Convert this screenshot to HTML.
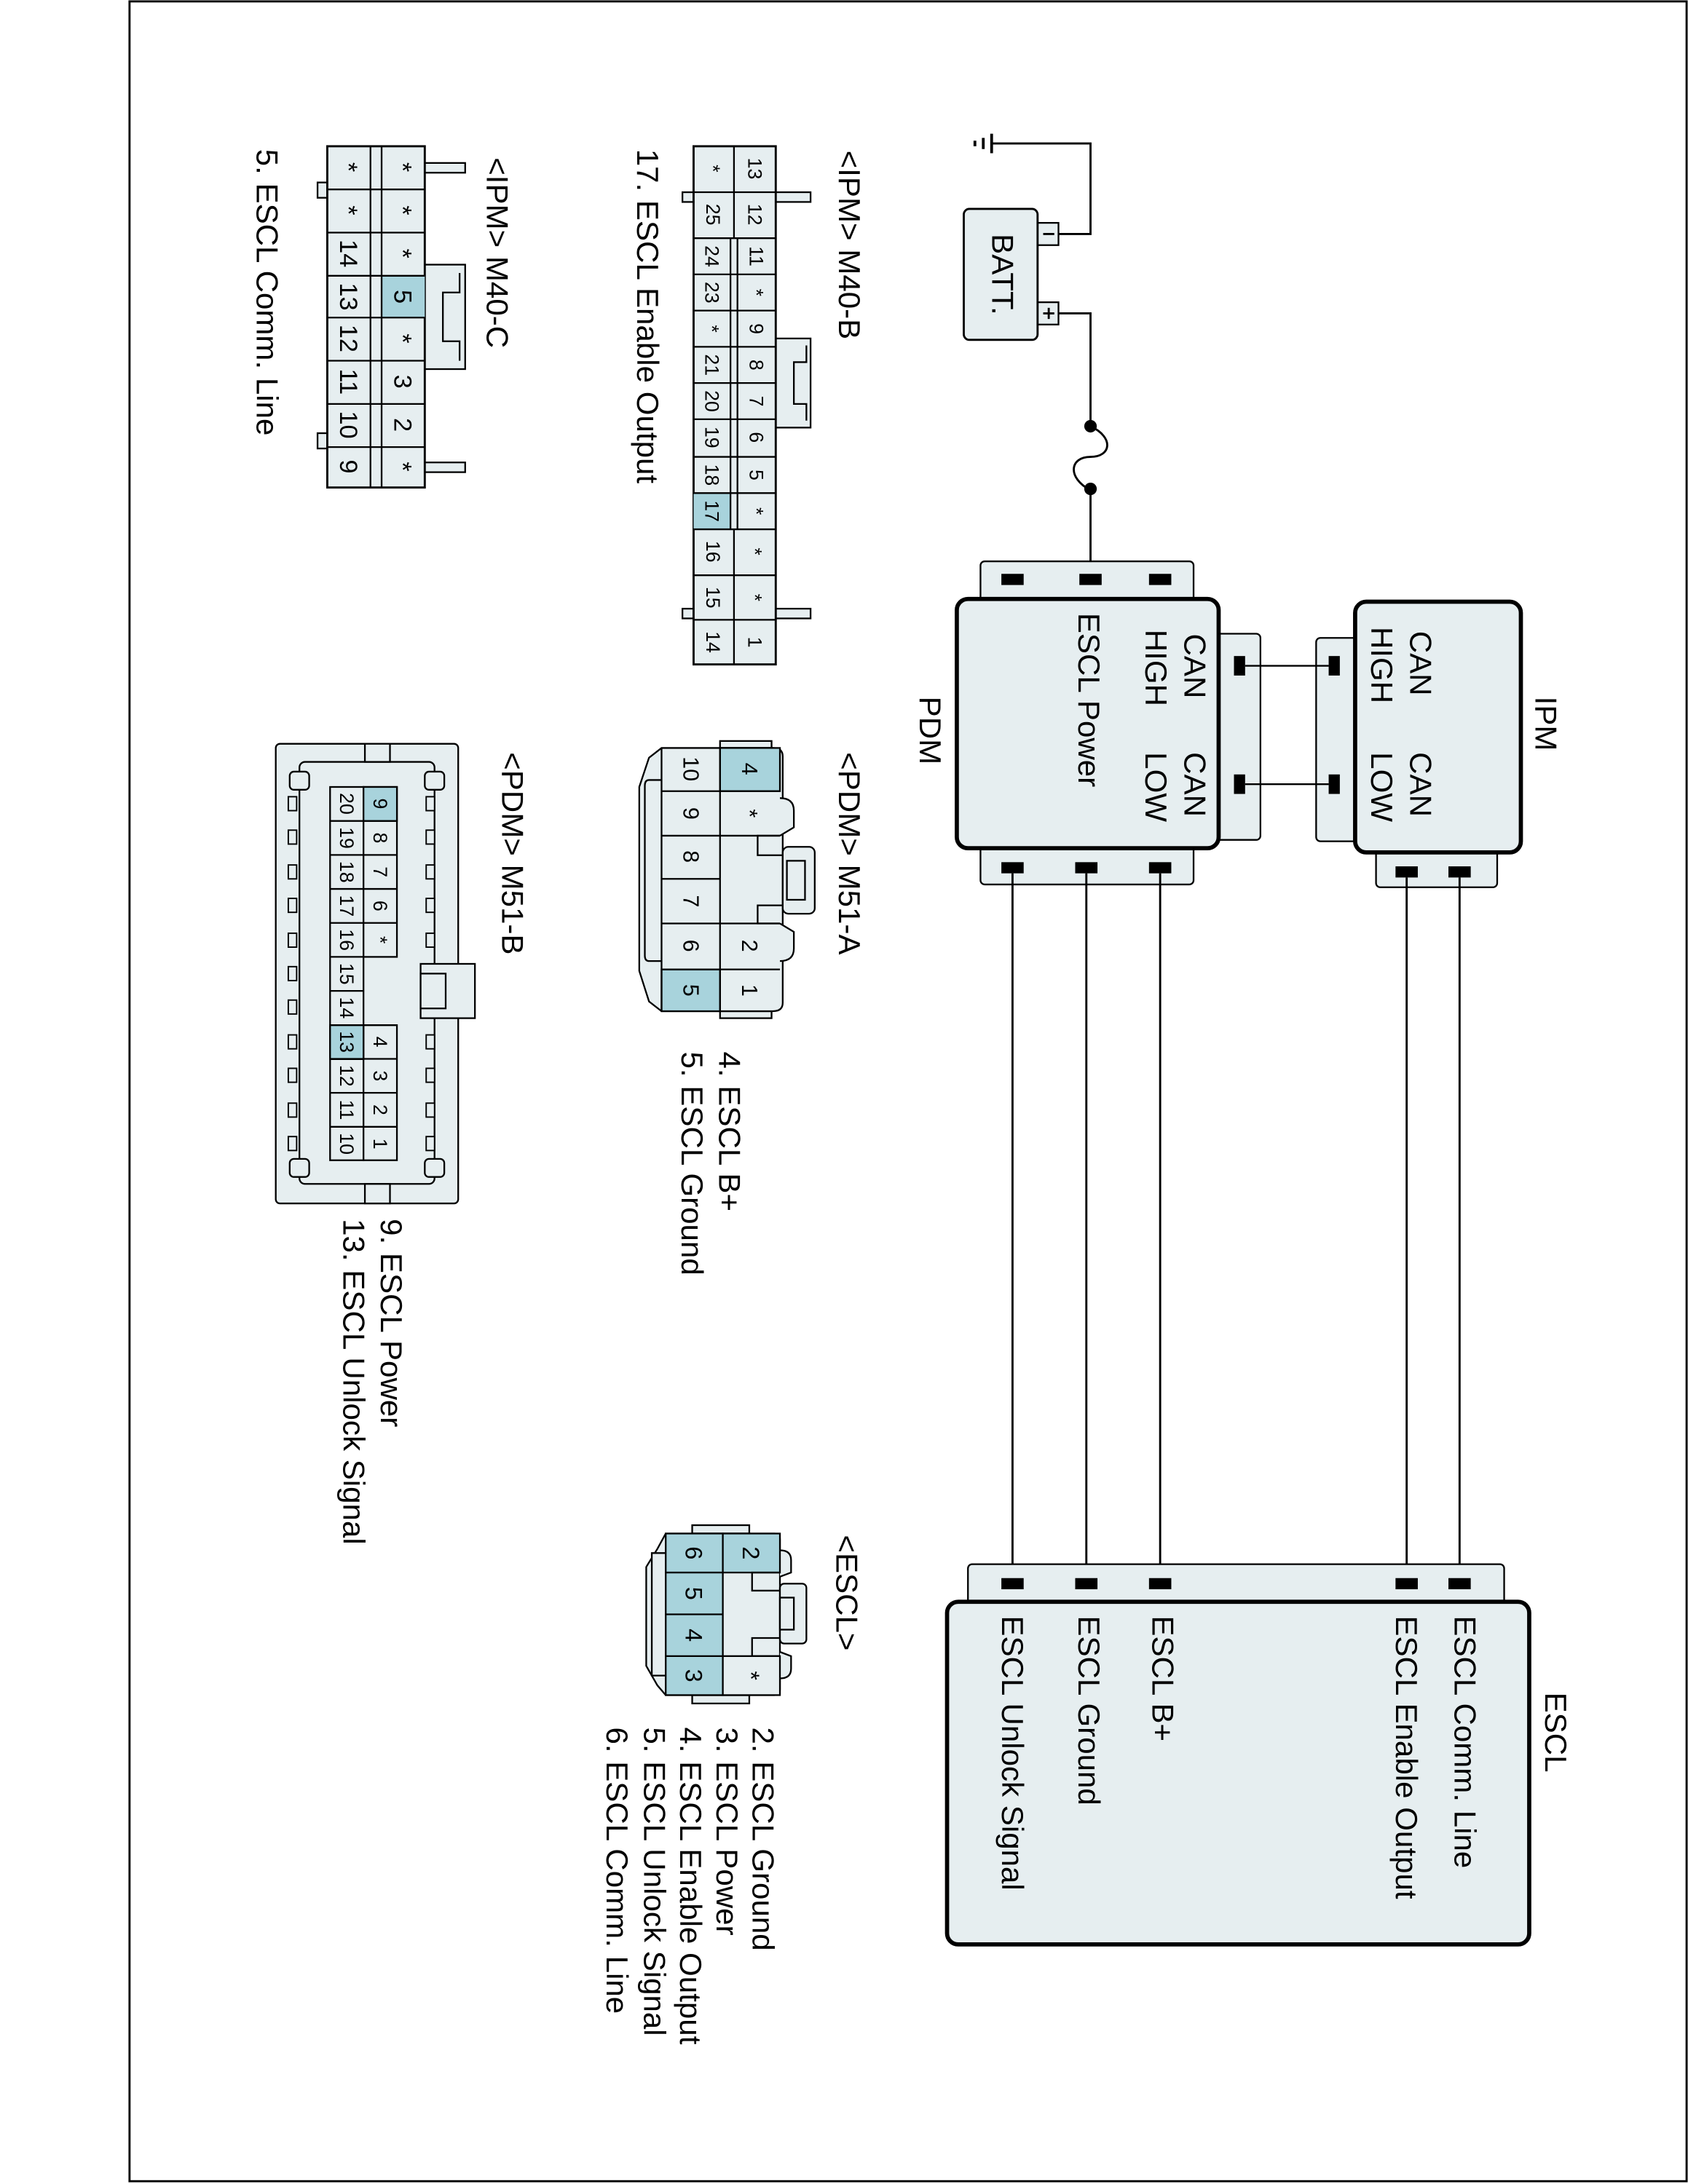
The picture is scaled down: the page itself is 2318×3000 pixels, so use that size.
<!DOCTYPE html>
<html><head><meta charset="utf-8"><style>
html,body{margin:0;padding:0;background:#fff}
svg{display:block}
text{font-family:"Liberation Sans",sans-serif;fill:#000}
.c{text-anchor:middle;dominant-baseline:central}
.s{dominant-baseline:central}
</style></head><body>
<svg width="2318" height="3000" viewBox="0 0 1212 1568" preserveAspectRatio="none" xmlns="http://www.w3.org/2000/svg">
<rect x="0" y="0" width="1212" height="1568" fill="#fff"/>
<rect x="93" y="1" width="1118" height="1565" fill="none" stroke="#000" stroke-width="1.5"/>

<g stroke="#000" fill="none" stroke-width="1.5">
<line x1="712" y1="96" x2="712" y2="110" stroke-width="2"/>
<line x1="706" y1="99" x2="706" y2="107" stroke-width="2"/>
<line x1="700" y1="101" x2="700" y2="105" stroke-width="2"/>
<polyline points="712,103 783,103 783,168 760,168"/>
<polyline points="760,225 783,225 783,306"/>
<path d="M783,306 C800,314 798,328 783,328 C768,328 766,343 783,352" stroke-width="1.5"/>
<line x1="783" y1="352" x2="783" y2="412"/>
</g>
<circle cx="783" cy="306" r="4.5"/><circle cx="783" cy="351" r="4.5"/>
<rect x="745" y="160" width="15" height="16" fill="#e6eef0" stroke="#000" stroke-width="1.2"/>
<rect x="745" y="217" width="15" height="16" fill="#e6eef0" stroke="#000" stroke-width="1.2"/>
<line x1="749" y1="168" x2="757" y2="168" stroke="#000" stroke-width="1.5"/>
<line x1="749" y1="225" x2="757" y2="225" stroke="#000" stroke-width="1.5"/>
<line x1="753" y1="221" x2="753" y2="229" stroke="#000" stroke-width="1.5"/>
<rect x="692" y="150" width="53" height="94" rx="4" fill="#e6eef0" stroke="#000" stroke-width="1.5"/>
<text class="c" x="720" y="197" font-size="22" transform="rotate(90 720 197)">BATT.</text>

<!-- PDM -->
<rect x="704" y="403" width="153" height="30" rx="3" fill="#e6eef0" stroke="#000" stroke-width="1.2"/>
<rect x="704" y="606" width="153" height="29" rx="3" fill="#e6eef0" stroke="#000" stroke-width="1.2"/>
<rect x="872" y="455" width="33" height="148" rx="3" fill="#e6eef0" stroke="#000" stroke-width="1.2"/>
<rect x="687" y="430" width="188" height="179" rx="8" fill="#e6eef0" stroke="#000" stroke-width="3"/>
<g fill="#000">
<rect x="719" y="412" width="16" height="8"/><rect x="775" y="412" width="16" height="8"/><rect x="825" y="412" width="16" height="8"/>
<rect x="719" y="619" width="16" height="8"/><rect x="772" y="619" width="16" height="8"/><rect x="825" y="619" width="16" height="8"/>
<rect x="886" y="471" width="8" height="14"/><rect x="886" y="556" width="8" height="14"/>
</g>
<text class="s" x="858" y="455" font-size="22" transform="rotate(90 858 455)">CAN</text>
<text class="s" x="830" y="452" font-size="22" transform="rotate(90 830 452)">HIGH</text>
<text class="s" x="858" y="540" font-size="22" transform="rotate(90 858 540)">CAN</text>
<text class="s" x="830" y="540" font-size="22" transform="rotate(90 830 540)">LOW</text>
<text class="s" x="782" y="440" font-size="22" transform="rotate(90 782 440)">ESCL Power</text>
<text class="s" x="668" y="500" font-size="22" transform="rotate(90 668 500)">PDM</text>

<!-- IPM -->
<rect x="945" y="458" width="31" height="146" rx="3" fill="#e6eef0" stroke="#000" stroke-width="1.2"/>
<rect x="988" y="609" width="87" height="28" rx="3" fill="#e6eef0" stroke="#000" stroke-width="1.2"/>
<rect x="973" y="432" width="119" height="180" rx="8" fill="#e6eef0" stroke="#000" stroke-width="3"/>
<g fill="#000">
<rect x="954" y="471" width="8" height="14"/><rect x="954" y="556" width="8" height="14"/>
<rect x="1002" y="622" width="16" height="8"/><rect x="1040" y="622" width="16" height="8"/>
</g>
<g stroke="#000" stroke-width="1.2"><line x1="894" y1="478" x2="954" y2="478"/><line x1="894" y1="563" x2="954" y2="563"/></g>
<text class="s" x="1020" y="453" font-size="22" transform="rotate(90 1020 453)">CAN</text>
<text class="s" x="992" y="450" font-size="22" transform="rotate(90 992 450)">HIGH</text>
<text class="s" x="1020" y="540" font-size="22" transform="rotate(90 1020 540)">CAN</text>
<text class="s" x="992" y="540" font-size="22" transform="rotate(90 992 540)">LOW</text>
<text class="s" x="1110" y="500" font-size="22" transform="rotate(90 1110 500)">IPM</text>

<g stroke="#000" stroke-width="1.5">
<line x1="727" y1="627" x2="727" y2="1137"/><line x1="780" y1="627" x2="780" y2="1137"/><line x1="833" y1="627" x2="833" y2="1137"/>
<line x1="1010" y1="630" x2="1010" y2="1137"/><line x1="1048" y1="630" x2="1048" y2="1137"/>
</g>

<!-- ESCL -->
<rect x="695" y="1123" width="385" height="30" rx="3" fill="#e6eef0" stroke="#000" stroke-width="1.2"/>
<rect x="680" y="1150" width="418" height="246" rx="8" fill="#e6eef0" stroke="#000" stroke-width="3"/>
<g fill="#000">
<rect x="719" y="1133" width="16" height="8"/><rect x="772" y="1133" width="16" height="8"/><rect x="825" y="1133" width="16" height="8"/>
<rect x="1002" y="1133" width="16" height="8"/><rect x="1040" y="1133" width="16" height="8"/>
</g>
<text class="s" x="1117" y="1215" font-size="22" transform="rotate(90 1117 1215)">ESCL</text>
<text class="s" x="1052" y="1160" font-size="22" transform="rotate(90 1052 1160)">ESCL Comm. Line</text>
<text class="s" x="1010" y="1160" font-size="22" transform="rotate(90 1010 1160)">ESCL Enable Output</text>
<text class="s" x="835" y="1160" font-size="22" transform="rotate(90 835 1160)">ESCL B+</text>
<text class="s" x="782" y="1160" font-size="22" transform="rotate(90 782 1160)">ESCL Ground</text>
<text class="s" x="727" y="1160" font-size="22" transform="rotate(90 727 1160)">ESCL Unlock Signal</text>

<!-- M40-B -->
<text class="s" x="610" y="108" font-size="22" transform="rotate(90 610 108)">&lt;IPM&gt; M40-B</text>
<text class="s" x="465" y="107" font-size="22" transform="rotate(90 465 107)">17. ESCL Enable Output</text>
<g fill="#e6eef0" stroke="#000" stroke-width="1.2">
<rect x="557" y="138" width="25" height="7"/><rect x="557" y="437" width="25" height="7"/>
<rect x="490" y="138" width="8" height="7"/><rect x="490" y="437" width="8" height="7"/>
<rect x="557" y="243" width="25" height="64"/>
</g>
<polyline points="579,248 579,260 570,260 570,290 579,290 579,302" fill="none" stroke="#000" stroke-width="1.2"/>
<rect x="498" y="105" width="59" height="372" fill="#e6eef0" stroke="#000" stroke-width="1.5"/>
<rect x="498" y="354" width="26" height="26" fill="#a8d3dc"/>
<g stroke="#000" stroke-width="1.2" fill="none">
<line x1="527" y1="105" x2="527" y2="171"/><line x1="527" y1="380" x2="527" y2="477"/>
<line x1="524.5" y1="171" x2="524.5" y2="380"/><line x1="529.5" y1="171" x2="529.5" y2="380"/>
<line x1="498" y1="138" x2="557" y2="138"/><line x1="498" y1="171" x2="557" y2="171"/>
<line x1="498" y1="197" x2="557" y2="197"/><line x1="498" y1="223" x2="557" y2="223"/>
<line x1="498" y1="249" x2="557" y2="249"/><line x1="498" y1="275" x2="557" y2="275"/>
<line x1="498" y1="301" x2="557" y2="301"/><line x1="498" y1="328" x2="557" y2="328"/>
<line x1="498" y1="354" x2="557" y2="354"/><line x1="498" y1="380" x2="557" y2="380"/>
<line x1="498" y1="413" x2="557" y2="413"/><line x1="498" y1="445" x2="557" y2="445"/>
</g>
<g font-size="14">
<text class="c" x="542" y="121" transform="rotate(90 542 121)">13</text>
<text class="c" x="542" y="154" transform="rotate(90 542 154)">12</text>
<text class="c" x="543" y="184" transform="rotate(90 543 184)">11</text>
<text class="c" x="543" y="210" transform="rotate(90 543 210)">*</text>
<text class="c" x="543" y="236" transform="rotate(90 543 236)">9</text>
<text class="c" x="543" y="262" transform="rotate(90 543 262)">8</text>
<text class="c" x="543" y="288" transform="rotate(90 543 288)">7</text>
<text class="c" x="543" y="314" transform="rotate(90 543 314)">6</text>
<text class="c" x="543" y="341" transform="rotate(90 543 341)">5</text>
<text class="c" x="543" y="367" transform="rotate(90 543 367)">*</text>
<text class="c" x="542" y="396" transform="rotate(90 542 396)">*</text>
<text class="c" x="542" y="429" transform="rotate(90 542 429)">*</text>
<text class="c" x="542" y="461" transform="rotate(90 542 461)">1</text>
<text class="c" x="512" y="121" transform="rotate(90 512 121)">*</text>
<text class="c" x="512" y="154" transform="rotate(90 512 154)">25</text>
<text class="c" x="511" y="184" transform="rotate(90 511 184)">24</text>
<text class="c" x="511" y="210" transform="rotate(90 511 210)">23</text>
<text class="c" x="511" y="236" transform="rotate(90 511 236)">*</text>
<text class="c" x="511" y="262" transform="rotate(90 511 262)">21</text>
<text class="c" x="511" y="288" transform="rotate(90 511 288)">20</text>
<text class="c" x="511" y="314" transform="rotate(90 511 314)">19</text>
<text class="c" x="511" y="341" transform="rotate(90 511 341)">18</text>
<text class="c" x="511" y="367" transform="rotate(90 511 367)">17</text>
<text class="c" x="512" y="396" transform="rotate(90 512 396)">16</text>
<text class="c" x="512" y="429" transform="rotate(90 512 429)">15</text>
<text class="c" x="512" y="461" transform="rotate(90 512 461)">14</text>
</g>

<!-- M40-C -->
<text class="s" x="357" y="113" font-size="22" transform="rotate(90 357 113)">&lt;IPM&gt; M40-C</text>
<text class="s" x="192" y="107" font-size="22" transform="rotate(90 192 107)">5. ESCL Comm. Line</text>
<g fill="#e6eef0" stroke="#000" stroke-width="1.2">
<rect x="305" y="117" width="29" height="7"/><rect x="305" y="332" width="29" height="7"/>
<rect x="228" y="131" width="7" height="11"/><rect x="228" y="311" width="7" height="11"/>
<rect x="305" y="190" width="29" height="75"/>
</g>
<polyline points="330,196 330,210 318,210 318,245 330,245 330,259" fill="none" stroke="#000" stroke-width="1.2"/>
<rect x="235" y="105" width="70" height="245" fill="#e6eef0" stroke="#000" stroke-width="1.5"/>
<rect x="274" y="198" width="31" height="30" fill="#a8d3dc"/>
<g stroke="#000" stroke-width="1.2">
<line x1="266" y1="105" x2="266" y2="350"/><line x1="274" y1="105" x2="274" y2="350"/>
<line x1="235" y1="136" x2="305" y2="136"/><line x1="235" y1="167" x2="305" y2="167"/>
<line x1="235" y1="198" x2="305" y2="198"/><line x1="235" y1="228" x2="305" y2="228"/>
<line x1="235" y1="259" x2="305" y2="259"/><line x1="235" y1="290" x2="305" y2="290"/>
<line x1="235" y1="321" x2="305" y2="321"/>
</g>
<g font-size="18">
<text class="c" x="289" y="120" transform="rotate(90 289 120)">*</text>
<text class="c" x="289" y="151" transform="rotate(90 289 151)">*</text>
<text class="c" x="289" y="182" transform="rotate(90 289 182)">*</text>
<text class="c" x="289" y="213" transform="rotate(90 289 213)">5</text>
<text class="c" x="289" y="243" transform="rotate(90 289 243)">*</text>
<text class="c" x="289" y="274" transform="rotate(90 289 274)">3</text>
<text class="c" x="289" y="305" transform="rotate(90 289 305)">2</text>
<text class="c" x="289" y="335" transform="rotate(90 289 335)">*</text>
<text class="c" x="250" y="120" transform="rotate(90 250 120)">*</text>
<text class="c" x="250" y="151" transform="rotate(90 250 151)">*</text>
<text class="c" x="250" y="182" transform="rotate(90 250 182)">14</text>
<text class="c" x="250" y="213" transform="rotate(90 250 213)">13</text>
<text class="c" x="250" y="243" transform="rotate(90 250 243)">12</text>
<text class="c" x="250" y="274" transform="rotate(90 250 274)">11</text>
<text class="c" x="250" y="305" transform="rotate(90 250 305)">10</text>
<text class="c" x="250" y="335" transform="rotate(90 250 335)">9</text>
</g>

<!-- M51-A -->
<text class="s" x="610" y="540" font-size="22" transform="rotate(90 610 540)">&lt;PDM&gt; M51-A</text>
<text class="s" x="524" y="755" font-size="22" transform="rotate(90 524 755)">4. ESCL B+</text>
<text class="s" x="497" y="755" font-size="22" transform="rotate(90 497 755)">5. ESCL Ground</text>
<g fill="#e6eef0" stroke="#000" stroke-width="1.2">
<rect x="517" y="532" width="37" height="5"/><rect x="517" y="726" width="37" height="5"/>
<path d="M475,537 L555,537 Q562,537 562,543 L562,720 Q562,726 555,726 L475,726 L466,719 L459,697 L459,565 L466,544 Z"/>
<path d="M475,560 L466,560 Q463,560 463,564 L463,686 Q463,690 466,690 L475,690"/>
<path d="M560,573 Q570,573 570,582 L570,594 L560,600"/>
<path d="M560,690 Q570,690 570,681 L570,669 L560,663"/>
<rect x="562" y="608" width="23" height="48" rx="4"/>
<rect x="565" y="618" width="13" height="28"/>
</g>
<rect x="517" y="537" width="43" height="31" fill="#a8d3dc" stroke="#000" stroke-width="1.2"/>
<rect x="475" y="696" width="42" height="30" fill="#a8d3dc" stroke="#000" stroke-width="1.2"/>
<g stroke="#000" stroke-width="1.2" fill="none">
<line x1="475" y1="537" x2="475" y2="726"/><line x1="517" y1="537" x2="517" y2="726"/>
<line x1="475" y1="568" x2="560" y2="568"/><line x1="475" y1="600" x2="560" y2="600"/>
<line x1="475" y1="631" x2="517" y2="631"/><line x1="475" y1="663" x2="560" y2="663"/>
<line x1="475" y1="696" x2="560" y2="696"/>
<polyline points="560,600 544,600 544,614 562,614"/><polyline points="562,650 544,650 544,663 560,663"/>
</g>
<g font-size="16">
<text class="c" x="538" y="552" transform="rotate(90 538 552)">4</text>
<text class="c" x="538" y="584" transform="rotate(90 538 584)">*</text>
<text class="c" x="538" y="679" transform="rotate(90 538 679)">2</text>
<text class="c" x="538" y="711" transform="rotate(90 538 711)">1</text>
<text class="c" x="496" y="552" transform="rotate(90 496 552)">10</text>
<text class="c" x="496" y="584" transform="rotate(90 496 584)">9</text>
<text class="c" x="496" y="615" transform="rotate(90 496 615)">8</text>
<text class="c" x="496" y="647" transform="rotate(90 496 647)">7</text>
<text class="c" x="496" y="679" transform="rotate(90 496 679)">6</text>
<text class="c" x="496" y="711" transform="rotate(90 496 711)">5</text>
</g>

<!-- M51-B -->
<text class="s" x="368" y="540" font-size="22" transform="rotate(90 368 540)">&lt;PDM&gt; M51-B</text>
<text class="s" x="281" y="875" font-size="22" transform="rotate(90 281 875)">9. ESCL Power</text>
<text class="s" x="254" y="875" font-size="22" transform="rotate(90 254 875)">13. ESCL Unlock Signal</text>
<g fill="#e6eef0" stroke="#000" stroke-width="1.2">
<rect x="198" y="534" width="131" height="330" rx="3"/>
<rect x="215" y="547" width="97" height="303" rx="4"/>
<rect x="208" y="554" width="14" height="13" rx="3"/><rect x="305" y="554" width="14" height="13" rx="3"/>
<rect x="208" y="832" width="14" height="13" rx="3"/><rect x="305" y="832" width="14" height="13" rx="3"/>
<rect x="262" y="534" width="18" height="13"/><rect x="262" y="850" width="18" height="14"/>
<rect x="302" y="692" width="39" height="39"/>
<rect x="302" y="699" width="18" height="25"/>
</g>
<g fill="#e6eef0" stroke="#000" stroke-width="1">
<rect x="207" y="572" width="6" height="10"/><rect x="207" y="596" width="6" height="10"/><rect x="207" y="621" width="6" height="10"/>
<rect x="207" y="645" width="6" height="10"/><rect x="207" y="670" width="6" height="10"/><rect x="207" y="694" width="6" height="10"/>
<rect x="207" y="718" width="6" height="10"/><rect x="207" y="743" width="6" height="10"/><rect x="207" y="767" width="6" height="10"/>
<rect x="207" y="792" width="6" height="10"/><rect x="207" y="816" width="6" height="10"/>
<rect x="306" y="572" width="6" height="10"/><rect x="306" y="596" width="6" height="10"/><rect x="306" y="621" width="6" height="10"/>
<rect x="306" y="645" width="6" height="10"/><rect x="306" y="670" width="6" height="10"/>
<rect x="306" y="743" width="6" height="10"/><rect x="306" y="767" width="6" height="10"/><rect x="306" y="792" width="6" height="10"/><rect x="306" y="816" width="6" height="10"/>
</g>
<rect x="237" y="565" width="24" height="268" fill="#e6eef0" stroke="#000" stroke-width="1.2"/>
<rect x="261" y="565" width="24" height="122" fill="#e6eef0" stroke="#000" stroke-width="1.2"/>
<rect x="261" y="736" width="24" height="97" fill="#e6eef0" stroke="#000" stroke-width="1.2"/>
<rect x="261" y="565" width="24" height="24.4" fill="#a8d3dc" stroke="#000" stroke-width="1.2"/>
<rect x="237" y="736" width="24" height="24.4" fill="#a8d3dc" stroke="#000" stroke-width="1.2"/>
<g stroke="#000" stroke-width="1.2">
<line x1="237" y1="589.4" x2="285" y2="589.4"/><line x1="237" y1="613.8" x2="285" y2="613.8"/><line x1="237" y1="638.2" x2="285" y2="638.2"/>
<line x1="237" y1="662.6" x2="285" y2="662.6"/><line x1="237" y1="687" x2="261" y2="687"/><line x1="237" y1="711.4" x2="261" y2="711.4"/>
<line x1="237" y1="736" x2="285" y2="736"/><line x1="237" y1="760.2" x2="285" y2="760.2"/><line x1="237" y1="784.6" x2="285" y2="784.6"/>
<line x1="237" y1="809" x2="285" y2="809"/>
</g>
<g font-size="14">
<text class="c" x="273" y="577" transform="rotate(90 273 577)">9</text>
<text class="c" x="273" y="601.6" transform="rotate(90 273 601.6)">8</text>
<text class="c" x="273" y="626" transform="rotate(90 273 626)">7</text>
<text class="c" x="273" y="650.4" transform="rotate(90 273 650.4)">6</text>
<text class="c" x="273" y="674.8" transform="rotate(90 273 674.8)">*</text>
<text class="c" x="273" y="748" transform="rotate(90 273 748)">4</text>
<text class="c" x="273" y="772.4" transform="rotate(90 273 772.4)">3</text>
<text class="c" x="273" y="796.8" transform="rotate(90 273 796.8)">2</text>
<text class="c" x="273" y="821.2" transform="rotate(90 273 821.2)">1</text>
<text class="c" x="249" y="577" transform="rotate(90 249 577)">20</text>
<text class="c" x="249" y="601.6" transform="rotate(90 249 601.6)">19</text>
<text class="c" x="249" y="626" transform="rotate(90 249 626)">18</text>
<text class="c" x="249" y="650.4" transform="rotate(90 249 650.4)">17</text>
<text class="c" x="249" y="674.8" transform="rotate(90 249 674.8)">16</text>
<text class="c" x="249" y="699.2" transform="rotate(90 249 699.2)">15</text>
<text class="c" x="249" y="723.6" transform="rotate(90 249 723.6)">14</text>
<text class="c" x="249" y="748" transform="rotate(90 249 748)">13</text>
<text class="c" x="249" y="772.4" transform="rotate(90 249 772.4)">12</text>
<text class="c" x="249" y="796.8" transform="rotate(90 249 796.8)">11</text>
<text class="c" x="249" y="821.2" transform="rotate(90 249 821.2)">10</text>
</g>

<!-- ESCL connector -->
<text class="s" x="608" y="1102" font-size="22" transform="rotate(90 608 1102)">&lt;ESCL&gt;</text>
<text class="s" x="548" y="1240" font-size="22" transform="rotate(90 548 1240)">2. ESCL Ground</text>
<text class="s" x="522" y="1240" font-size="22" transform="rotate(90 522 1240)">3. ESCL Power</text>
<text class="s" x="496" y="1240" font-size="22" transform="rotate(90 496 1240)">4. ESCL Enable Output</text>
<text class="s" x="470" y="1240" font-size="22" transform="rotate(90 470 1240)">5. ESCL Unlock Signal</text>
<text class="s" x="443" y="1240" font-size="22" transform="rotate(90 443 1240)">6. ESCL Comm. Line</text>
<g fill="#e6eef0" stroke="#000" stroke-width="1.2">
<rect x="497" y="1095" width="41" height="6"/><rect x="497" y="1217" width="41" height="6"/>
<path d="M478,1101 L556,1101 Q560,1101 560,1105 L560,1213 Q560,1217 556,1217 L478,1217 L472,1210 L464,1196 L464,1125 L472,1112 Z"/>
<path d="M478,1115 L468,1115 L468,1203 L478,1203"/>
<path d="M560,1113 Q568,1113 568,1120 L568,1129 L560,1132"/>
<path d="M560,1205 Q568,1205 568,1198 L568,1189 L560,1186"/>
<rect x="560" y="1137" width="19" height="43" rx="3"/>
<rect x="560" y="1147" width="10" height="23"/>
</g>
<rect x="478" y="1101" width="41" height="116" fill="#a8d3dc" stroke="#000" stroke-width="1.2"/>
<rect x="519" y="1101" width="41" height="28" fill="#a8d3dc" stroke="#000" stroke-width="1.2"/>
<rect x="519" y="1189" width="41" height="28" fill="#e6eef0" stroke="#000" stroke-width="1.2"/>
<g stroke="#000" stroke-width="1.2" fill="none">
<line x1="478" y1="1129" x2="519" y2="1129"/><line x1="478" y1="1159" x2="519" y2="1159"/><line x1="478" y1="1189" x2="519" y2="1189"/>
<polyline points="560,1129 540,1129 540,1142 560,1142"/><polyline points="560,1176 540,1176 540,1189 560,1189"/>
</g>
<g font-size="17">
<text class="c" x="539" y="1115" transform="rotate(90 539 1115)">2</text>
<text class="c" x="539" y="1203" transform="rotate(90 539 1203)">*</text>
<text class="c" x="498" y="1115" transform="rotate(90 498 1115)">6</text>
<text class="c" x="498" y="1144" transform="rotate(90 498 1144)">5</text>
<text class="c" x="498" y="1174" transform="rotate(90 498 1174)">4</text>
<text class="c" x="498" y="1203" transform="rotate(90 498 1203)">3</text>
</g>
</svg>
</body></html>
